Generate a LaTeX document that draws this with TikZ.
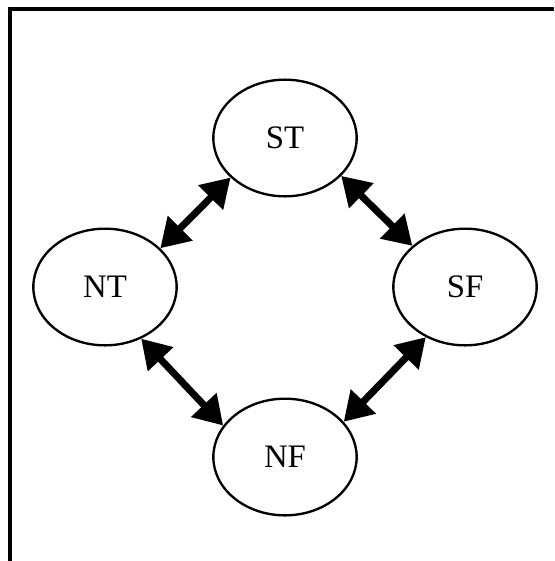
\documentclass[tikz,border=0pt]{standalone}
\usepackage{fontspec}
\setmainfont{Liberation Serif}
\usetikzlibrary{positioning,shapes.geometric,arrows.meta}
\tikzset{type/.style={shape=ellipse,draw=black,line width=2pt,minimum width=4.3cm,minimum height=3.5cm,inner sep=0pt,font=\fontsize{28}{30}\selectfont}}
\tikzset{link/.style={draw=black,line width=6pt,{Triangle[length=0.85cm,width=1cm]}-{Triangle[length=0.85cm,width=1cm]}}}

\begin{document}
\begin{tikzpicture}[x=0.03cm,y=-0.03cm,node distance=4.47cm and 5.4cm,on grid]
  \useasboundingbox (0,0) rectangle (554,561);
  % open frame, top and left only
  \draw[line width=3pt] (10,561) -- (10,9) -- (554,9);

  \node[type] (ST) at (285,138) {ST};
  \node[type] (NT) [below left=of ST] {NT};
  \node[type] (SF) [below right=of ST] {SF};
  \node[type] (NF) [below=9.57cm of ST] {NF};

  \path (NT.35) edge[link] (ST.216);
  \path (ST.326) edge[link] (SF.142);
  \path (NT.305) edge[link] (NF.153);
  \path (SF.232) edge[link] (NF.31);
\end{tikzpicture}
\end{document}
